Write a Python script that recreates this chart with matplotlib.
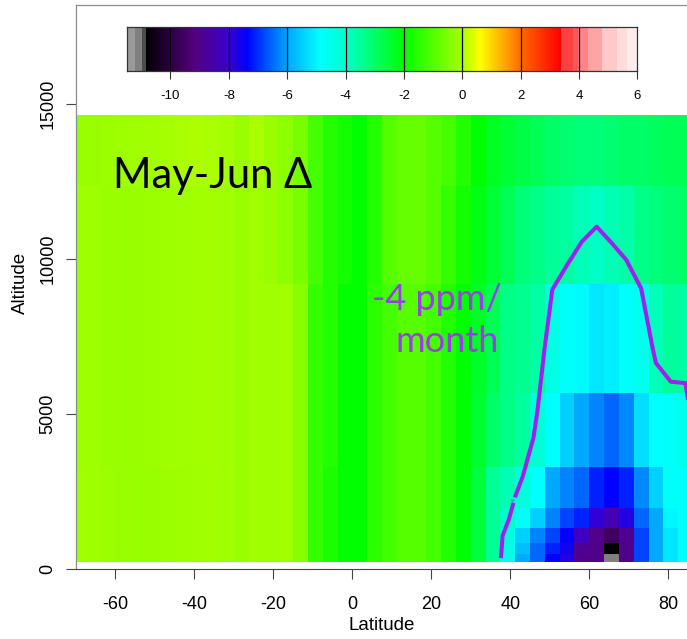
import numpy as np
import matplotlib
matplotlib.use("Agg")
import matplotlib.pyplot as plt
from matplotlib.colors import LinearSegmentedColormap, Normalize

plt.rcParams["font.family"] = ["Liberation Sans", "DejaVu Sans"]
plt.rcParams["axes.unicode_minus"] = False

# grid cell centres (latitude, deg) and altitude levels (m)
lat = [-69.375, -65.625, -61.875, -58.125, -54.375, -50.625, -46.875, -43.125,
       -39.375, -35.625, -31.875, -28.125, -24.375, -20.625, -16.875, -13.125,
       -9.375, -5.625, -1.875, 1.875, 5.625, 9.375, 13.125, 16.875, 20.625,
       24.375, 28.125, 31.875, 35.625, 39.375, 43.125, 46.875, 50.625, 54.375,
       58.125, 61.875, 65.625, 69.375, 73.125, 76.875, 80.625, 84.375, 88.125]
alt = [360, 628, 1088, 1596, 2340, 4240, 7154, 11234, 13520]

# May-Jun change (ppm/month), one list per altitude level, south -> north
lev_0360 = [-0.12, -0.15, -0.18, -0.2, -0.22, -0.2, -0.18, -0.15, -0.12, -0.1, -0.12,
            -0.2, -0.12, -0.12, -0.1, -0.4, -1.4, -1.7, -2.0, -2.0, -1.5, -1.2, -1.0, -1.0, -1.2, -1.6, -2.0, -2.6,
            -3.45, -4.5, -5.97, -6.55, -7.4, -7.75, -9.0, -9.0, -11.1, -9.0, -6.83, -6.0, -5.2, -4.8, -4.6]
lev_0628 = [-0.12, -0.15, -0.18, -0.2, -0.22, -0.2, -0.18, -0.15, -0.12, -0.1, -0.12,
            -0.2, -0.12, -0.12, -0.1, -0.4, -1.4, -1.7, -2.0, -2.0, -1.5, -1.2, -1.0, -1.0, -1.2, -1.6, -2.0, -2.6,
            -3.45, -4.4, -5.7, -6.55, -7.12, -7.6, -8.9, -9.0, -10.8, -9.0, -6.83, -6.0, -5.2, -4.8, -4.6]
lev_1088 = [-0.12, -0.15, -0.18, -0.2, -0.22, -0.2, -0.18, -0.15, -0.12, -0.1, -0.12,
            -0.2, -0.12, -0.12, -0.1, -0.4, -1.4, -1.7, -2.0, -2.0, -1.5, -1.2, -1.0, -1.0, -1.2, -1.6, -2.0, -2.6,
            -3.45, -4.3, -5.5, -6.3, -6.83, -7.4, -8.2, -9.0, -9.6, -8.9, -6.83, -6.0, -5.2, -4.8, -4.6]
lev_1596 = [-0.12, -0.15, -0.18, -0.2, -0.22, -0.2, -0.18, -0.15, -0.12, -0.1, -0.12,
            -0.2, -0.12, -0.12, -0.1, -0.4, -1.4, -1.7, -2.0, -2.0, -1.5, -1.2, -1.0, -1.0, -1.2, -1.6, -2.0, -2.6,
            -3.45, -3.95, -4.78, -5.5, -6.3, -6.83, -7.12, -7.9, -8.4, -7.75, -6.55, -6.0, -5.0, -4.8, -4.6]
lev_2340 = [-0.12, -0.15, -0.18, -0.2, -0.22, -0.2, -0.18, -0.15, -0.12, -0.1, -0.12,
            -0.2, -0.12, -0.12, -0.1, -0.4, -1.4, -1.7, -2.0, -2.0, -1.5, -1.2, -1.0, -1.0, -1.2, -1.6, -2.0, -2.6,
            -3.45, -3.77, -4.237, -4.9, -6.0, -6.3, -6.55, -7.12, -7.4, -7.12, -6.27, -5.5, -4.8, -4.8, -4.5]
lev_4240 = [-0.14, -0.16, -0.2, -0.22, -0.2, -0.18, -0.15, -0.12, -0.1, -0.08, -0.12,
            -0.2, -0.12, -0.12, -0.1, -0.4, -1.4, -1.6, -2.0, -2.0, -1.5, -1.2, -1.0, -1.0, -1.2, -1.6, -2.0, -2.45,
            -3.0, -3.33, -3.54, -4.171, -4.9, -5.5, -6.0, -6.3, -6.55, -6.27, -5.3, -4.87, -4.8, -4.6, -3.5]
lev_7154 = [-0.14, -0.16, -0.2, -0.22, -0.2, -0.18, -0.15, -0.12, -0.1, -0.08, -0.12,
            -0.2, -0.12, -0.12, -0.1, -0.4, -1.4, -1.6, -2.0, -2.0, -1.5, -1.2, -1.0, -1.0, -1.2, -1.6, -2.0, -2.4,
            -2.83, -3.3, -3.4, -3.6, -4.42, -4.8, -4.95, -5.2, -5.1, -4.8, -4.6, -3.82, -3.514, -3.608, -3.1]
lev_11234 = [-0.14, -0.16, -0.2, -0.22, -0.2, -0.18, -0.15, -0.12, -0.1, -0.08, -0.12,
             -0.2, -0.12, -0.2, -0.35, -0.6, -1.2, -1.6, -1.8, -2.0, -1.6, -1.0, -0.8, -0.8, -1.0, -1.4, -1.8, -2.17,
             -2.5, -2.83, -3.17, -3.33, -3.5, -3.573, -3.815, -3.943, -3.771, -3.644, -3.318, -3.2, -3.1, -3.0, -2.9]
lev_13520 = [-0.2, -0.2, -0.18, -0.15, -0.12, -0.1, -0.05, 0.0, 0.02, 0.0, -0.05,
             -0.2, 0.0, -0.2, -0.35, -0.6, -1.2, -1.6, -1.8, -2.0, -1.6, -1.0, -0.8, -0.8, -1.0, -1.2, -1.6, -2.0,
             -2.33, -2.5, -2.67, -2.83, -3.0, -3.1, -3.17, -3.17, -3.1, -3.0, -3.0, -2.9, -2.83, -2.83, -2.8]

cbar_ticks = [-10, -8, -6, -4, -2, 0, 2, 4, 6]
x_ticks = [-60, -40, -20, 0, 20, 40, 60, 80]
y_ticks = [0, 5000, 10000, 15000]

VMIN, VMAX = -11.5, 6.0
# palette as in the original colour bar (grey/black ... red, then pink steps)
stops = [(-11.5, "#9a9a9a"), (-11.25, "#9a9a9a"), (-11.25, "#808080"), (-10.98, "#808080"),
         (-10.98, "#4d4d4d"), (-10.87, "#4d4d4d"), (-10.87, "#000000"), (-9.2, "#55007f"),
         (-8.0, "#3a00d0"), (-7.4, "#0000ff"), (-6.0, "#00a8ff"), (-4.9, "#00ffff"),
         (-4.0, "#00ffcc"), (-2.0, "#00ff00"), (0.0, "#aaff00"), (0.6, "#ffff00"),
         (2.0, "#ff6a00"), (3.35, "#ff0000"), (3.35, "#ff4040"), (3.79, "#ff4040"),
         (3.79, "#ff5555"), (3.96, "#ff5555"), (3.96, "#ff8484"), (4.3, "#ff8484"),
         (4.3, "#ffa3a3"), (4.78, "#ffa3a3"), (4.78, "#ffc9c9"), (5.3, "#ffc9c9"),
         (5.3, "#ffdcdc"), (5.64, "#ffdcdc"), (5.64, "#ffebeb"), (6.0, "#ffebeb")]
cmap = LinearSegmentedColormap.from_list(
    "co2", [((v - VMIN) / (VMAX - VMIN), c) for v, c in stops], N=2048)
norm = Normalize(VMIN, VMAX)
PURPLE = "#a020f0"


def edges(c):
    # cell boundaries half-way between centres, like R's image()
    c = np.asarray(c, float)
    mid = (c[:-1] + c[1:]) / 2
    return np.concatenate([[c[0] - (c[1] - c[0]) / 2], mid, [c[-1] + (c[-1] - c[-2]) / 2]])


Z = np.array([lev_0360, lev_0628, lev_1088, lev_1596, lev_2340,
              lev_4240, lev_7154, lev_11234, lev_13520])

W, H = 687, 639
fig = plt.figure(figsize=(W / 100, H / 100), dpi=100)
ax = fig.add_axes([76 / W, 1 - 569.3 / H, 612 / W, 564.3 / H])
ax.pcolormesh(edges(lat), edges(alt), Z, cmap=cmap, norm=norm, shading="flat", antialiased=False)
cs = ax.contour(lat, alt, Z, levels=[-4], colors=PURPLE, linewidths=2.9, linestyles="solid")
ax.clabel(cs, fmt={-4.0: "-4"}, fontsize=4, manual=[(40.7, 2235)], inline=True, inline_spacing=1)
ax.set_xlim(-70, 85)
ax.set_ylim(0, 18200)

ax.set_xticks(x_ticks)
ax.set_xticklabels([str(t) for t in x_ticks])
ax.set_yticks(y_ticks)
ax.set_yticklabels([str(t) for t in y_ticks], rotation=90, va="center")
ax.tick_params(direction="out", length=7, width=0.8, color="#444444", labelsize=13)
ax.tick_params(axis="x", pad=12)
ax.tick_params(axis="y", pad=7)
ax.spines["right"].set_visible(False)
for s in ("top", "left"):
    ax.spines[s].set_color("#8c8c8c")
    ax.spines[s].set_linewidth(0.9)
ax.spines["bottom"].set_color("#444444")
ax.spines["bottom"].set_linewidth(0.8)

fig.text(382 / W, 1 - 625 / H, "Latitude", ha="center", va="center", fontsize=13.5)
fig.text(20 / W, 1 - 283 / H, "Altitude", ha="center", va="center", rotation=90, fontsize=13.5)

# colour bar drawn inside the plot region
cax = fig.add_axes([126.7 / W, 1 - 70.7 / H, 510.6 / W, 44 / H])
cax.imshow(np.linspace(VMIN, VMAX, 1400)[None, :], aspect="auto", cmap=cmap, norm=norm,
           extent=(VMIN, VMAX, 0, 1), interpolation="nearest")
for t in cbar_ticks[:-1]:
    cax.axvline(t, color="black", lw=0.9)
cax.set_xlim(VMIN, VMAX)
cax.set_xticks(cbar_ticks)
cax.set_xticklabels([str(t) for t in cbar_ticks])
cax.set_yticks([])
cax.tick_params(axis="x", length=6, width=0.8, pad=8, labelsize=9.5, color="#333333")
for s in cax.spines.values():
    s.set_color("#333333")
    s.set_linewidth(0.9)

fig.text(113 / W, 1 - 188.3 / H, "May-Jun \u0394", fontsize=30,
         family=["Lato", "DejaVu Sans"], ha="left", va="baseline")
fig.text(502 / W, 1 - 310 / H, "-4 ppm/", fontsize=26, color="#9d3ce8",
         family=["Lato", "DejaVu Sans"], ha="right", va="baseline")
fig.text(499 / W, 1 - 351.7 / H, "month", fontsize=26, color="#9d3ce8",
         family=["Lato", "DejaVu Sans"], ha="right", va="baseline")

fig.savefig("out.png", dpi=100)
